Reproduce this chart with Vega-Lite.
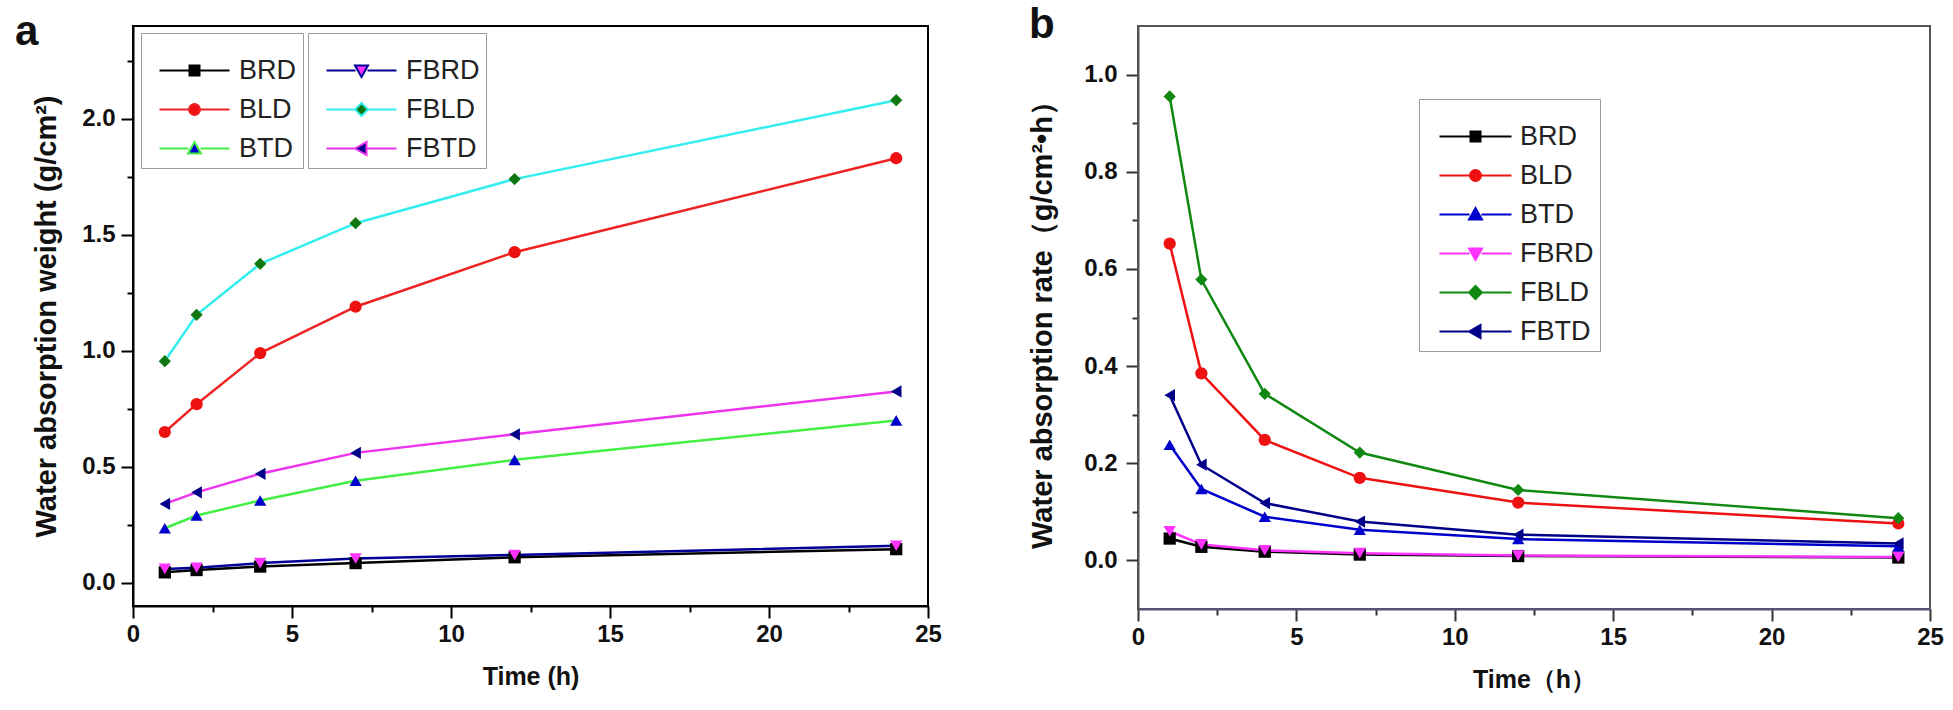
{
  "$schema": "https://vega.github.io/schema/vega-lite/v6.json",
  "padding": {"left": 14, "top": 3, "right": 5, "bottom": 5},
  "bounds": "flush",
  "spacing": 210,
  "config": {"font": "Liberation Sans", "view": {"stroke": "black", "strokeWidth": 2}},
  "datasets": {
    "a": [
      {"s": "BRD", "t": 1, "v": 0.045}, {"s": "BRD", "t": 2, "v": 0.055}, {"s": "BRD", "t": 4, "v": 0.07}, {"s": "BRD", "t": 7, "v": 0.085}, {"s": "BRD", "t": 12, "v": 0.11}, {"s": "BRD", "t": 24, "v": 0.145},
      {"s": "BLD", "t": 1, "v": 0.65}, {"s": "BLD", "t": 2, "v": 0.77}, {"s": "BLD", "t": 4, "v": 0.99}, {"s": "BLD", "t": 7, "v": 1.19}, {"s": "BLD", "t": 12, "v": 1.425}, {"s": "BLD", "t": 24, "v": 1.83},
      {"s": "BTD", "t": 1, "v": 0.235}, {"s": "BTD", "t": 2, "v": 0.29}, {"s": "BTD", "t": 4, "v": 0.355}, {"s": "BTD", "t": 7, "v": 0.44}, {"s": "BTD", "t": 12, "v": 0.53}, {"s": "BTD", "t": 24, "v": 0.70},
      {"s": "FBRD", "t": 1, "v": 0.06}, {"s": "FBRD", "t": 2, "v": 0.065}, {"s": "FBRD", "t": 4, "v": 0.085}, {"s": "FBRD", "t": 7, "v": 0.105}, {"s": "FBRD", "t": 12, "v": 0.12}, {"s": "FBRD", "t": 24, "v": 0.16},
      {"s": "FBLD", "t": 1, "v": 0.955}, {"s": "FBLD", "t": 2, "v": 1.155}, {"s": "FBLD", "t": 4, "v": 1.375}, {"s": "FBLD", "t": 7, "v": 1.55}, {"s": "FBLD", "t": 12, "v": 1.74}, {"s": "FBLD", "t": 24, "v": 2.08},
      {"s": "FBTD", "t": 1, "v": 0.34}, {"s": "FBTD", "t": 2, "v": 0.39}, {"s": "FBTD", "t": 4, "v": 0.47}, {"s": "FBTD", "t": 7, "v": 0.56}, {"s": "FBTD", "t": 12, "v": 0.64}, {"s": "FBTD", "t": 24, "v": 0.825}
    ],
    "b": [
      {"s": "BRD", "t": 1, "v": 0.045}, {"s": "BRD", "t": 2, "v": 0.028}, {"s": "BRD", "t": 4, "v": 0.018}, {"s": "BRD", "t": 7, "v": 0.012}, {"s": "BRD", "t": 12, "v": 0.009}, {"s": "BRD", "t": 24, "v": 0.006},
      {"s": "BLD", "t": 1, "v": 0.652}, {"s": "BLD", "t": 2, "v": 0.385}, {"s": "BLD", "t": 4, "v": 0.248}, {"s": "BLD", "t": 7, "v": 0.17}, {"s": "BLD", "t": 12, "v": 0.119}, {"s": "BLD", "t": 24, "v": 0.076},
      {"s": "BTD", "t": 1, "v": 0.238}, {"s": "BTD", "t": 2, "v": 0.147}, {"s": "BTD", "t": 4, "v": 0.09}, {"s": "BTD", "t": 7, "v": 0.063}, {"s": "BTD", "t": 12, "v": 0.044}, {"s": "BTD", "t": 24, "v": 0.029},
      {"s": "FBRD", "t": 1, "v": 0.06}, {"s": "FBRD", "t": 2, "v": 0.033}, {"s": "FBRD", "t": 4, "v": 0.021}, {"s": "FBRD", "t": 7, "v": 0.015}, {"s": "FBRD", "t": 12, "v": 0.01}, {"s": "FBRD", "t": 24, "v": 0.007},
      {"s": "FBLD", "t": 1, "v": 0.955}, {"s": "FBLD", "t": 2, "v": 0.578}, {"s": "FBLD", "t": 4, "v": 0.343}, {"s": "FBLD", "t": 7, "v": 0.222}, {"s": "FBLD", "t": 12, "v": 0.145}, {"s": "FBLD", "t": 24, "v": 0.087},
      {"s": "FBTD", "t": 1, "v": 0.34}, {"s": "FBTD", "t": 2, "v": 0.197}, {"s": "FBTD", "t": 4, "v": 0.118}, {"s": "FBTD", "t": 7, "v": 0.08}, {"s": "FBTD", "t": 12, "v": 0.053}, {"s": "FBTD", "t": 24, "v": 0.035}
    ]
  },
  "hconcat": [
    {
      "width": 795,
      "height": 580,
      "data": {"name": "a"},
      "title": {"text": "a", "anchor": "start", "frame": "group", "dx": -118, "offset": -61, "baseline": "alphabetic", "fontSize": 42, "fontWeight": "bold", "font": "Liberation Sans", "color": "#111111"},
      "layer": [
        {
          "mark": {"type": "line", "strokeWidth": 2.5},
          "encoding": {
            "x": {"field": "t", "type": "quantitative", "scale": {"domain": [0, 25], "nice": false, "zero": false},
              "axis": {"title": "Time (h)", "values": [0, 2.5, 5, 7.5, 10, 12.5, 15, 17.5, 20, 22.5, 25], "labelExpr": "datum.value % 5 === 0 ? format(datum.value, 'd') : ''",
                "tickSize": {"condition": {"test": "datum.value % 5 === 0", "value": 12}, "value": 6},
                "grid": false, "labelFlush": false, "labelOverlap": false, "labelFontSize": 24, "labelFontWeight": "bold", "labelFont": "Liberation Sans", "labelColor": "#111111",
                "titleFontSize": 25, "titleFontWeight": "bold", "titleFont": "Liberation Sans", "titleColor": "#111111", "domainColor": "black", "domainWidth": 2, "tickColor": "black", "tickWidth": 2, "labelPadding": 4, "titlePadding": 18}},
            "y": {"field": "v", "type": "quantitative", "scale": {"domain": [-0.1, 2.4], "nice": false, "zero": false},
              "axis": {"title": "Water absorption weight (g/cm²)", "values": [0, 0.25, 0.5, 0.75, 1, 1.25, 1.5, 1.75, 2, 2.25], "labelExpr": "(datum.value * 4) % 2 === 0 ? format(datum.value, '.1f') : ''",
                "tickSize": {"condition": {"test": "(datum.value * 4) % 2 === 0", "value": 12}, "value": 6},
                "grid": false, "labelOverlap": false, "labelFontSize": 24, "labelFontWeight": "bold", "labelFont": "Liberation Sans", "labelColor": "#111111",
                "titleFontSize": 29, "titleFontWeight": "bold", "titleFont": "Liberation Sans", "titleColor": "#111111", "domainColor": "black", "domainWidth": 2, "tickColor": "black", "tickWidth": 2, "labelPadding": 6, "titlePadding": 20}},
            "stroke": {"field": "s", "type": "nominal", "scale": {"domain": ["BRD", "BLD", "BTD", "FBRD", "FBLD", "FBTD"], "range": ["#000000", "#ee2222", "#44ee44", "#000099", "#33eeee", "#ee33ee"]}, "legend": null}
          }
        },
        {
          "mark": {"type": "point", "filled": true, "size": 150, "opacity": 1, "strokeWidth": 0},
          "encoding": {
            "x": {"field": "t", "type": "quantitative"},
            "y": {"field": "v", "type": "quantitative"},
            "shape": {"field": "s", "type": "nominal", "scale": {"domain": ["BRD", "BLD", "BTD", "FBRD", "FBLD", "FBTD"], "range": ["square", "circle", "triangle-up", "triangle-down", "diamond", "triangle-left"]}, "legend": null},
            "fill": {"field": "s", "type": "nominal", "scale": {"domain": ["BRD", "BLD", "BTD", "FBRD", "FBLD", "FBTD"], "range": ["#000000", "#ee1111", "#0000cc", "#ff33ff", "#117711", "#000088"]}, "legend": null}
          }
        },
        {
          "transform": [{"filter": "false"}],
          "mark": {"type": "point", "filled": true, "opacity": 1, "strokeWidth": 2},
          "encoding": {
            "shape": {"field": "s", "type": "nominal", "scale": {"domain": ["BRD", "BLD", "BTD"], "range": [
              "M-3.5,0H-0.55M0.55,0H3.5M-0.5,-0.5H0.5V0.5H-0.5Z",
              "M-3.5,0H-0.6M0.6,0H3.5M-0.55,0A0.55,0.55 0 1,0 0.55,0A0.55,0.55 0 1,0 -0.55,0Z",
              "M-3.5,0H-0.6M0.6,0H3.5M0,-0.65L0.65,0.5H-0.65Z"]},
              "legend": {"orient": "none", "legendX": 8, "legendY": 7, "title": "\u00a0", "titleFontSize": 14, "titlePadding": 4, "padding": 6, "strokeColor": "#999999",
                "symbolSize": 400, "symbolStrokeWidth": 2, "symbolOffset": 34, "labelOffset": 31, "labelFontSize": 27, "labelFont": "Liberation Sans", "labelColor": "#222222", "rowPadding": 11, "symbolOpacity": 1,
                "encode": {"legend": {"update": {"strokeWidth": {"value": 2}}}}}},
            "fill": {"field": "s", "type": "nominal", "scale": {"domain": ["BRD", "BLD", "BTD"], "range": ["#000000", "#ee1111", "#0000cc"]}},
            "stroke": {"field": "s", "type": "nominal", "scale": {"domain": ["BRD", "BLD", "BTD"], "range": ["#000000", "#ee2222", "#44ee44"]}}
          }
        },
        {
          "transform": [{"filter": "false"}],
          "mark": {"type": "point", "filled": true, "opacity": 1, "strokeWidth": 2},
          "encoding": {
            "shape": {"field": "s", "type": "nominal", "scale": {"domain": ["FBRD", "FBLD", "FBTD"], "range": [
              "M-3.5,0H-0.6M0.6,0H3.5M0,0.65L0.65,-0.5H-0.65Z",
              "M-3.5,0H-0.65M0.65,0H3.5M0,-0.65L0.65,0L0,0.65L-0.65,0Z",
              "M-3.5,0H-0.6M0.6,0H3.5M-0.65,0L0.5,-0.65V0.65Z"]},
              "legend": {"orient": "none", "legendX": 175, "legendY": 7, "title": "\u00a0", "titleFontSize": 14, "titlePadding": 4, "padding": 6, "strokeColor": "#999999",
                "symbolSize": 400, "symbolStrokeWidth": 2, "symbolOffset": 34, "labelOffset": 31, "labelFontSize": 27, "labelFont": "Liberation Sans", "labelColor": "#222222", "rowPadding": 11, "symbolOpacity": 1,
                "encode": {"legend": {"update": {"strokeWidth": {"value": 2}}}}}},
            "fill": {"field": "s", "type": "nominal", "scale": {"domain": ["FBRD", "FBLD", "FBTD"], "range": ["#ff33ff", "#117711", "#000088"]}},
            "stroke": {"field": "s", "type": "nominal", "scale": {"domain": ["FBRD", "FBLD", "FBTD"], "range": ["#000099", "#33eeee", "#ee33ee"]}}
          }
        }
      ],
      "resolve": {"scale": {"shape": "independent", "fill": "independent", "stroke": "independent"}}
    },
    {
      "width": 792,
      "height": 583,
      "data": {"name": "b"},
      "view": {"stroke": "#555555", "strokeWidth": 2},
      "title": {"text": "b", "anchor": "start", "frame": "group", "dx": -109, "offset": -54, "baseline": "alphabetic", "fontSize": 42, "fontWeight": "bold", "font": "Liberation Sans", "color": "#111111"},
      "layer": [
        {
          "mark": {"type": "line", "strokeWidth": 2.5},
          "encoding": {
            "x": {"field": "t", "type": "quantitative", "scale": {"domain": [0, 25], "nice": false, "zero": false},
              "axis": {"title": "Time（h）", "values": [0, 2.5, 5, 7.5, 10, 12.5, 15, 17.5, 20, 22.5, 25], "labelExpr": "datum.value % 5 === 0 ? format(datum.value, 'd') : ''",
                "tickSize": {"condition": {"test": "datum.value % 5 === 0", "value": 12}, "value": 6},
                "grid": false, "labelFlush": false, "labelOverlap": false, "labelFontSize": 24, "labelFontWeight": "bold", "labelFont": "Liberation Sans", "labelColor": "#111111",
                "titleFontSize": 25, "titleFontWeight": "bold", "titleFont": "Liberation Sans", "titleColor": "#111111", "domainColor": "#555577", "domainWidth": 2, "tickColor": "#333333", "tickWidth": 2, "labelPadding": 4, "titlePadding": 18}},
            "y": {"field": "v", "type": "quantitative", "scale": {"domain": [-0.1, 1.1], "nice": false, "zero": false},
              "axis": {"title": "Water absorption rate（g/cm²•h）", "values": [0, 0.1, 0.2, 0.3, 0.4, 0.5, 0.6, 0.7, 0.8, 0.9, 1.0], "labelExpr": "round(datum.value * 10) % 2 === 0 ? format(datum.value, '.1f') : ''",
                "tickSize": {"condition": {"test": "round(datum.value * 10) % 2 === 0", "value": 12}, "value": 6},
                "grid": false, "labelOverlap": false, "labelFontSize": 24, "labelFontWeight": "bold", "labelFont": "Liberation Sans", "labelColor": "#111111",
                "titleFontSize": 29, "titleFontWeight": "bold", "titleFont": "Liberation Sans", "titleColor": "#111111", "domainColor": "#555555", "domainWidth": 2, "tickColor": "#333333", "tickWidth": 2, "labelPadding": 9, "titlePadding": 26}},
            "stroke": {"field": "s", "type": "nominal", "scale": {"domain": ["BRD", "BLD", "BTD", "FBRD", "FBLD", "FBTD"], "range": ["#000000", "#ee1111", "#0000cc", "#ff33ff", "#118811", "#000088"]}, "legend": null}
          }
        },
        {
          "mark": {"type": "point", "filled": true, "size": 150, "opacity": 1, "strokeWidth": 0},
          "encoding": {
            "x": {"field": "t", "type": "quantitative"},
            "y": {"field": "v", "type": "quantitative"},
            "shape": {"field": "s", "type": "nominal", "scale": {"domain": ["BRD", "BLD", "BTD", "FBRD", "FBLD", "FBTD"], "range": ["square", "circle", "triangle-up", "triangle-down", "diamond", "triangle-left"]}, "legend": null},
            "fill": {"field": "s", "type": "nominal", "scale": {"domain": ["BRD", "BLD", "BTD", "FBRD", "FBLD", "FBTD"], "range": ["#000000", "#ee1111", "#0000cc", "#ff33ff", "#118811", "#000088"]}, "legend": null}
          }
        },
        {
          "transform": [{"filter": "false"}],
          "mark": {"type": "point", "filled": true, "opacity": 1, "strokeWidth": 2},
          "encoding": {
            "shape": {"field": "s", "type": "nominal", "scale": {"domain": ["BRD", "BLD", "BTD", "FBRD", "FBLD", "FBTD"], "range": [
              "M-3.6,0H-0.55M0.55,0H3.6M-0.5,-0.5H0.5V0.5H-0.5Z",
              "M-3.6,0H-0.6M0.6,0H3.6M-0.55,0A0.55,0.55 0 1,0 0.55,0A0.55,0.55 0 1,0 -0.55,0Z",
              "M-3.6,0H-0.6M0.6,0H3.6M0,-0.65L0.65,0.5H-0.65Z",
              "M-3.6,0H-0.6M0.6,0H3.6M0,0.65L0.65,-0.5H-0.65Z",
              "M-3.6,0H-0.65M0.65,0H3.6M0,-0.65L0.65,0L0,0.65L-0.65,0Z",
              "M-3.6,0H-0.6M0.6,0H3.6M-0.65,0L0.5,-0.65V0.65Z"]},
              "legend": {"orient": "none", "legendX": 281, "legendY": 73, "title": "\u00a0", "titleFontSize": 12, "titlePadding": 6, "padding": 6, "strokeColor": "#999999",
                "symbolSize": 400, "symbolStrokeWidth": 2, "symbolOffset": 37, "labelOffset": 31, "labelFontSize": 27, "labelFont": "Liberation Sans", "labelColor": "#222222", "rowPadding": 11, "symbolOpacity": 1,
                "encode": {"legend": {"update": {"strokeWidth": {"value": 2}}}}}},
            "fill": {"field": "s", "type": "nominal", "scale": {"domain": ["BRD", "BLD", "BTD", "FBRD", "FBLD", "FBTD"], "range": ["#000000", "#ee1111", "#0000cc", "#ff33ff", "#118811", "#000088"]}},
            "stroke": {"field": "s", "type": "nominal", "scale": {"domain": ["BRD", "BLD", "BTD", "FBRD", "FBLD", "FBTD"], "range": ["#000000", "#ee1111", "#0000cc", "#ff33ff", "#118811", "#000088"]}}
          }
        }
      ],
      "resolve": {"scale": {"shape": "independent", "fill": "independent", "stroke": "independent"}}
    }
  ]
}
